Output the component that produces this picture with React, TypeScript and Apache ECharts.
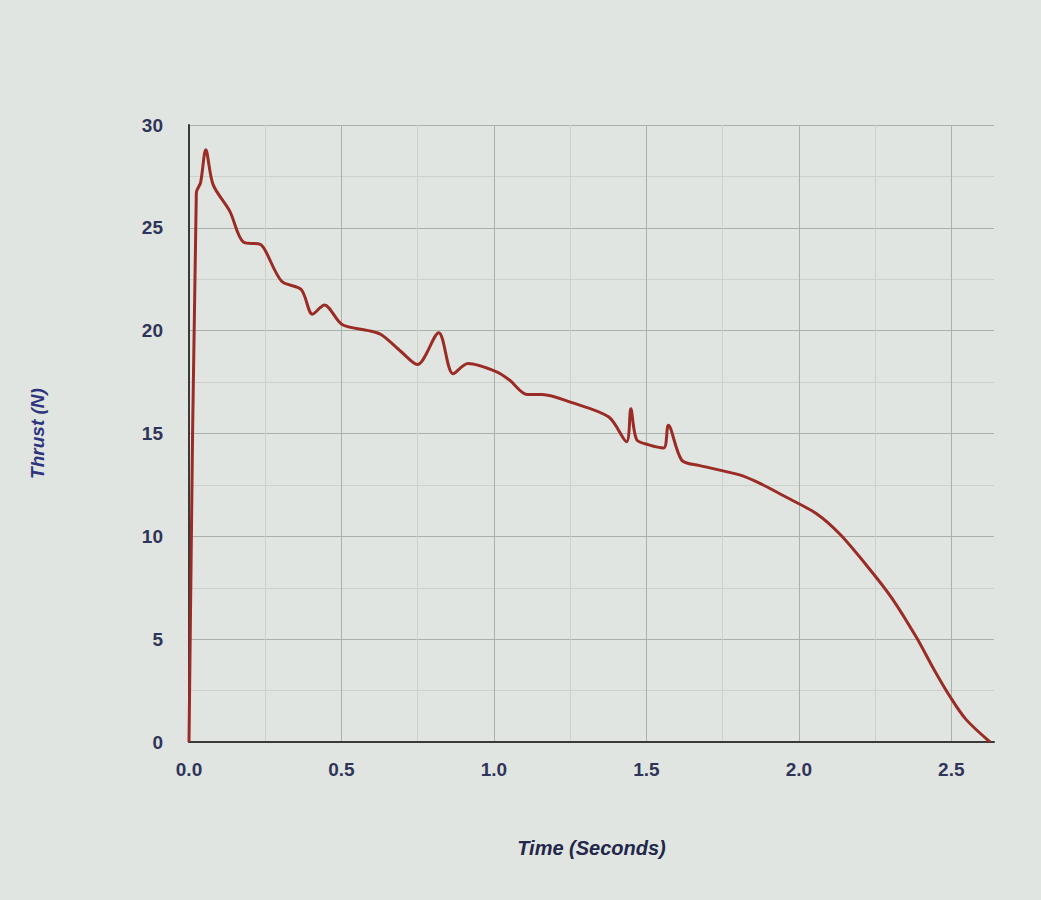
import React, { useEffect, useRef } from "react";
import * as echarts from "echarts";

const timeSeconds = [
  0, 0.024, 0.038, 0.055, 0.079, 0.134, 0.179, 0.234, 0.25, 0.304, 0.368, 0.405,
  0.444, 0.502, 0.589, 0.631, 0.694, 0.749, 0.819, 0.866, 0.915, 1.009, 1.051,
  1.109, 1.158, 1.256, 1.377, 1.435, 1.449, 1.468, 1.508, 1.557, 1.572, 1.616,
  1.672, 1.803, 1.869, 1.959, 2.058, 2.135, 2.227, 2.305, 2.385, 2.444, 2.496,
  2.548, 2.627,
];
const thrustN = [
  0, 26.7, 27.2, 28.8, 27.1, 25.8, 24.3, 24.2, 23.9, 22.4, 22.0, 20.8,
  21.25, 20.3, 20.0, 19.8, 19.0, 18.35, 19.9, 17.9, 18.4, 18.0, 17.6,
  16.9, 16.9, 16.5, 15.8, 14.6, 16.2, 14.7, 14.45, 14.3, 15.4, 13.7,
  13.45, 13.0, 12.6, 11.9, 11.1, 10.1, 8.5, 7.0, 5.1, 3.5, 2.2,
  1.1, 0,
];
const xTickLabels = ["0.0", "0.5", "1.0", "1.5", "2.0", "2.5"];
const yTickLabels = ["0", "5", "10", "15", "20", "25", "30"];

const FONT = "'Liberation Sans', Arial, sans-serif";
const MAJOR = "#aab0ac";
const MINOR = "#ccd1cc";

export default function App() {
  const ref = useRef<HTMLDivElement>(null);
  useEffect(() => {
    document.body.style.margin = "0";
    if (!ref.current) return;
    const chart = echarts.init(ref.current, undefined, { renderer: "svg" });
    const xColors: string[] = [];
    for (let i = 0; i < 11; i++) xColors.push(i % 2 === 0 ? MAJOR : MINOR);
    xColors.push("rgba(0,0,0,0)");
    chart.setOption({
      animation: false,
      backgroundColor: "#e1e5e1",
      grid: { left: 189, top: 125, width: 805, height: 617 },
      xAxis: {
        type: "value",
        min: 0,
        max: 2.64,
        interval: 0.25,
        name: "Time (Seconds)",
        nameLocation: "middle",
        nameGap: 96,
        nameTextStyle: {
          fontFamily: FONT,
          fontStyle: "italic",
          fontWeight: "bold",
          fontSize: 20,
          color: "#23274a",
        },
        axisLine: { show: true, onZero: false, lineStyle: { color: "#3a3a3a", width: 2 } },
        axisTick: { show: false },
        axisLabel: {
          margin: 18,
          fontFamily: FONT,
          fontSize: 19,
          fontWeight: "bold",
          color: "#2f3559",
          formatter: (v: number) => {
            const i = Math.round(v / 0.5);
            return Math.abs(v - i * 0.5) < 1e-6 && xTickLabels[i] ? xTickLabels[i] : "";
          },
        },
        splitLine: { show: true, lineStyle: { color: xColors, width: 1 } },
      },
      yAxis: {
        type: "value",
        min: 0,
        max: 30,
        interval: 5,
        name: "Thrust (N)",
        nameLocation: "middle",
        nameGap: 142,
        nameTextStyle: {
          fontFamily: FONT,
          fontStyle: "italic",
          fontWeight: "bold",
          fontSize: 19,
          color: "#2e3480",
        },
        axisLine: { show: true, lineStyle: { color: "#3a3a3a", width: 2 } },
        axisTick: { show: false },
        axisLabel: {
          margin: 26,
          fontFamily: FONT,
          fontSize: 19,
          fontWeight: "bold",
          color: "#2f3559",
          formatter: (v: number) => yTickLabels[Math.round(v / 5)] ?? "",
        },
        splitLine: { show: true, lineStyle: { color: MAJOR, width: 1 } },
        minorTick: { show: false, splitNumber: 2 },
        minorSplitLine: { show: true, lineStyle: { color: MINOR, width: 1 } },
      },
      series: [
        {
          type: "line",
          data: timeSeconds.map((t, i) => [t, thrustN[i]]),
          showSymbol: false,
          smooth: 0.3,
          lineStyle: { color: "#9a2b25", width: 3 },
          z: 5,
        },
      ],
    });
    return () => chart.dispose();
  }, []);
  return <div ref={ref} style={{ width: 1041, height: 900 }} />;
}
